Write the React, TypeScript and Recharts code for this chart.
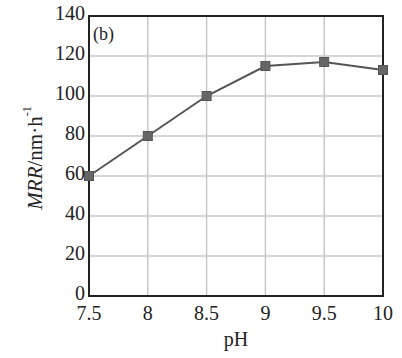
import React from 'react';
import { LineChart, Line, XAxis, YAxis, CartesianGrid, ReferenceArea, Label } from 'recharts';

const phValues = [7.5, 8, 8.5, 9, 9.5, 10];
const mrrValues = [60, 80, 100, 115, 117, 113];
const xTicks = [7.5, 8, 8.5, 9, 9.5, 10];
const yTicks = [0, 20, 40, 60, 80, 100, 120, 140];

const data = phValues.map((ph, i) => ({ ph, mrr: mrrValues[i] }));

const FONT = '"Liberation Serif", "Times New Roman", serif';

const SquareDot = (props: any) => {
  const { cx, cy } = props;
  if (cx == null || cy == null) return null;
  return <rect x={cx - 4.5} y={cy - 4.5} width={9} height={9} fill="#666" stroke="#555" strokeWidth={1} />;
};

const YTick = (props: any) => {
  const { x, y, payload } = props;
  return (
    <text x={x} y={y} dy={-3} textAnchor="end" dominantBaseline="central" fontFamily={FONT} fontSize={20} fill="#222">
      {payload.value}
    </text>
  );
};

const YLabel = (props: any) => {
  const vb = props.viewBox || {};
  const x = vb.x + 35;
  const y = vb.y + vb.height / 2 + 2;
  return (
    <text
      x={x}
      y={y}
      transform={`rotate(-90, ${x}, ${y})`}
      textAnchor="middle"
      dominantBaseline="central"
      fontFamily={FONT}
      fontSize={21}
      fill="#222"
    >
      <tspan fontStyle="italic">MRR</tspan>
      <tspan>/nm·h</tspan>
      <tspan fontSize={12} dy={-8}>-1</tspan>
    </text>
  );
};

const XLabel = (props: any) => {
  const vb = props.viewBox || {};
  const x = vb.x + vb.width / 2;
  const y = vb.y + 50;
  return (
    <text x={x} y={y} textAnchor="middle" fontFamily={FONT} fontSize={20} fill="#222">
      pH
    </text>
  );
};

const PanelLabel = (props: any) => {
  const vb = props.viewBox || {};
  return (
    <text x={vb.x + 4} y={vb.y + 24} fontFamily={FONT} fontSize={18} fill="#222">
      (b)
    </text>
  );
};

export default function App() {
  return (
    <div style={{ position: 'absolute', left: 0, top: 0, width: 402, height: 358, background: '#fff' }}>
      <LineChart width={402} height={358} data={data} margin={{ top: 16, right: 19, bottom: 2, left: 0 }}>
        <CartesianGrid stroke="#c8c8c8" strokeWidth={1.5} />
        <XAxis
          dataKey="ph"
          type="number"
          domain={[7.5, 10]}
          ticks={xTicks}
          height={60}
          tickLine={false}
          tickSize={0}
          tickMargin={10}
          axisLine={{ stroke: '#222', strokeWidth: 2 }}
          tick={{ fontFamily: FONT, fontSize: 20, fill: '#222' }}
          interval={0}
        >
          <Label content={<XLabel />} />
        </XAxis>
        <YAxis
          type="number"
          domain={[0, 140]}
          ticks={yTicks}
          width={89}
          tickLine={false}
          tickSize={0}
          tickMargin={4}
          axisLine={{ stroke: '#222', strokeWidth: 2 }}
          tick={<YTick />}
          interval={0}
        >
          <Label content={<YLabel />} />
        </YAxis>
        <ReferenceArea x1={7.5} x2={10} y1={0} y2={140} fill="none" stroke="#222" strokeWidth={2} ifOverflow="visible">
          <Label content={<PanelLabel />} />
        </ReferenceArea>
        <Line
          type="linear"
          dataKey="mrr"
          stroke="#555"
          strokeWidth={2}
          dot={<SquareDot />}
          isAnimationActive={false}
        />
      </LineChart>
    </div>
  );
}
